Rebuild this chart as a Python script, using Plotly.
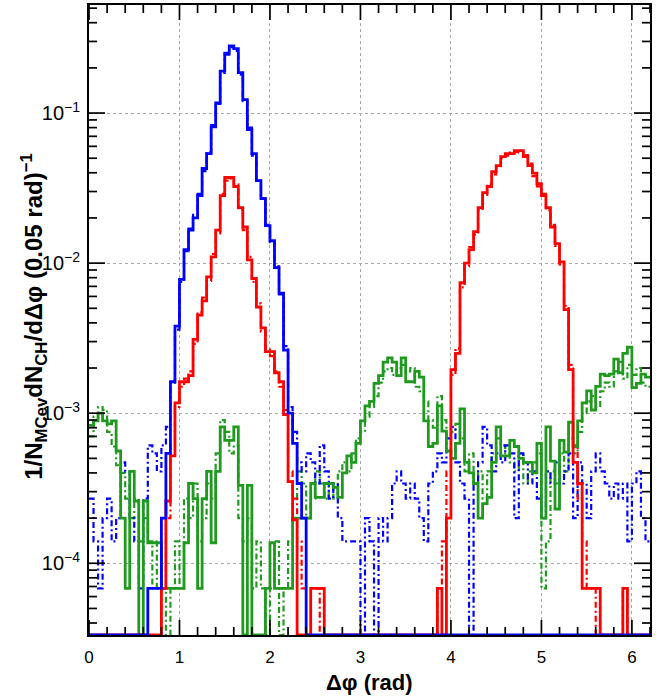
import plotly.graph_objects as go

# ---------------- data (per-bin values, 0.05 rad bins from 0 to 6.2) ----------------
BIN_WIDTH = 0.05
N_BINS = 124
bin_edges = [round(i * BIN_WIDTH, 2) for i in range(N_BINS + 1)]

blue_solid = [
    0, 0, 0, 0, 0, 0, 0, 0, 0, 0,
    0, 0, 0, 6.8e-5, 6.8e-5, 6.8e-5, 2.0e-4, 5.4e-4, 1.62e-3, 3.8e-3,
    7.8e-3, 1.23e-2, 1.66e-2, 2.0e-2, 2.82e-2, 4.27e-2, 5.37e-2, 8.1e-2, 0.117, 0.19,
    0.251, 0.28, 0.269, 0.186, 0.123, 0.0776, 0.0537, 0.0355, 0.0269, 0.0178,
    0.0141, 0.00933, 0.00631, 0.00263, 0.001, 6.3e-4, 3.4e-4, 2.0e-4, 0, 0,
    0, 0, 0, 0, 0, 0, 0, 0, 0, 0,
    0, 0, 0, 0, 0, 0, 0, 0, 0, 0,
    0, 0, 0, 0, 0, 0, 0, 0, 0, 0,
    0, 0, 0, 0, 0, 0, 0, 0, 0, 0,
    0, 0, 0, 0, 0, 0, 0, 0, 0, 0,
    0, 0, 0, 0, 0, 0, 0, 0, 0, 0,
    0, 0, 0, 0, 0, 0, 0, 0, 0, 0,
    0, 0, 0, 0,
]

blue_dashed = [
    2.7e-4, 1.4e-4, 6.8e-5, 2.0e-4, 2.7e-4, 1.4e-4, 2.0e-4, 4.7e-4, 4.1e-4, 2.0e-4,
    1.4e-4, 6.8e-5, 2.7e-4, 6.1e-4, 5.4e-4, 4.1e-4, 6.1e-4, 8.1e-4, 1.6e-3, 3.6e-3,
    7.5e-3, 1.2e-2, 1.7e-2, 2.1e-2, 2.9e-2, 4.1e-2, 5.5e-2, 8.3e-2, 0.115, 0.185,
    0.245, 0.275, 0.26, 0.18, 0.12, 0.08, 0.052, 0.036, 0.027, 0.018,
    0.0138, 0.0095, 0.0062, 0.0028, 1.1e-3, 7.5e-4, 4.7e-4, 4.1e-4, 5.4e-4, 4.7e-4,
    3.4e-4, 6.1e-4, 4.1e-4, 2.7e-4, 3.4e-4, 2.0e-4, 1.4e-4, 1.4e-4, 1.4e-4, 1.4e-4,
    0, 2.0e-4, 1.4e-4, 0, 2.0e-4, 1.4e-4, 2.0e-4, 3.4e-4, 4.1e-4, 3.4e-4,
    2.7e-4, 3.4e-4, 2.7e-4, 2.0e-4, 1.4e-4, 3.4e-4, 4.1e-4, 5.4e-4, 4.7e-4, 6.8e-4,
    8.1e-4, 4.7e-4, 3.4e-4, 2.7e-4, 0, 3.4e-4, 4.7e-4, 8.1e-4, 6.1e-4, 4.1e-4,
    5.4e-4, 4.7e-4, 6.1e-4, 5.4e-4, 2.0e-4, 5.4e-4, 4.7e-4, 3.4e-4, 4.1e-4, 2.7e-4,
    2.0e-4, 4.1e-4, 3.4e-4, 4.7e-4, 3.4e-4, 4.1e-4, 5.4e-4, 2.0e-4, 4.7e-4, 3.4e-4,
    2.0e-4, 4.1e-4, 5.4e-4, 4.1e-4, 3.4e-4, 2.7e-4, 3.4e-4, 2.7e-4, 3.4e-4, 1.4e-4,
    3.4e-4, 4.1e-4, 2.0e-4, 1.4e-4,
]

red_solid = [
    0, 0, 0, 0, 0, 0, 0, 0, 0, 0,
    0, 0, 0, 0, 0, 0, 6.8e-5, 2.6e-4, 5.2e-4, 1.17e-3,
    1.62e-3, 1.62e-3, 1.78e-3, 3.1e-3, 4.5e-3, 5.6e-3, 8.1e-3, 0.011, 0.0166, 0.0282,
    0.0372, 0.0372, 0.0324, 0.0234, 0.0174, 0.0105, 0.0079, 0.0051, 0.0037, 0.00257,
    0.00257, 0.00186, 0.00162, 9.8e-4, 3.5e-4, 1.95e-4, 0, 0, 0, 6.8e-5,
    6.8e-5, 6.8e-5, 0, 0, 0, 0, 0, 0, 0, 0,
    0, 0, 0, 0, 0, 0, 0, 0, 0, 0,
    0, 0, 0, 0, 0, 0, 0, 6.8e-5, 0, 2.0e-4,
    1.95e-3, 2.5e-3, 7.4e-3, 0.01, 0.0123, 0.0162, 0.0234, 0.0295, 0.0324, 0.0407,
    0.0447, 0.0513, 0.0537, 0.0537, 0.0562, 0.0562, 0.0513, 0.0447, 0.0398, 0.0339,
    0.0282, 0.0234, 0.0174, 0.0135, 0.0102, 0.0049, 0.00195, 4.7e-4, 3.4e-4, 6.8e-5,
    6.8e-5, 6.8e-5, 6.8e-5, 0, 0, 0, 0, 0, 6.8e-5, 0,
    0, 0, 0, 0,
]

red_dashed = [
    0, 0, 0, 0, 0, 0, 0, 0, 0, 0,
    0, 0, 0, 0, 0, 0, 6.8e-5, 2.0e-4, 6.1e-4, 1.1e-3,
    1.5e-3, 1.7e-3, 1.9e-3, 2.9e-3, 4.7e-3, 5.9e-3, 7.6e-3, 0.0115, 0.0158, 0.029,
    0.0355, 0.0365, 0.0335, 0.0228, 0.0166, 0.0110, 0.0075, 0.0054, 0.0035, 0.0027,
    0.0024, 0.0019, 0.0015, 1.05e-3, 4.1e-4, 2.7e-4, 1.4e-4, 6.8e-5, 6.8e-5, 6.8e-5,
    6.8e-5, 0, 0, 0, 0, 0, 0, 0, 0, 0,
    0, 0, 0, 0, 0, 0, 0, 0, 0, 0,
    0, 0, 0, 0, 0, 0, 0, 6.8e-5, 1.4e-4, 4.1e-4,
    1.8e-3, 2.7e-3, 6.9e-3, 0.0095, 0.0128, 0.0155, 0.0225, 0.0285, 0.0335, 0.039,
    0.0435, 0.050, 0.052, 0.0545, 0.055, 0.0545, 0.0525, 0.046, 0.038, 0.0325,
    0.0290, 0.0225, 0.0180, 0.0130, 0.0098, 0.0052, 0.0021, 6.1e-4, 2.7e-4, 1.4e-4,
    6.8e-5, 6.8e-5, 0, 0, 0, 0, 0, 0, 6.8e-5, 0,
    0, 0, 0, 0,
]

green_solid = [
    8.3e-4, 8.9e-4, 1.0e-3, 8.9e-4, 8.5e-4, 8.9e-4, 5.6e-4, 2.0e-4, 6.8e-5, 4.1e-4,
    2.6e-4, 0, 2.6e-4, 1.37e-4, 1.37e-4, 1.37e-4, 6.8e-5, 6.8e-5, 6.8e-5, 6.8e-5,
    6.8e-5, 1.37e-4, 3.4e-4, 2.7e-4, 6.8e-5, 2.7e-4, 4.1e-4, 1.37e-4, 4.1e-4, 8.1e-4,
    6.6e-4, 6.6e-4, 8.1e-4, 3.3e-4, 0, 3.3e-4, 0, 0, 0, 6.8e-5,
    1.37e-4, 6.8e-5, 6.8e-5, 6.8e-5, 6.8e-5, 2.0e-4, 2.0e-4, 2.0e-4, 2.0e-4, 3.4e-4,
    2.75e-4, 2.75e-4, 3.4e-4, 3.4e-4, 3.2e-4, 2.75e-4, 4.0e-4, 5.2e-4, 4.7e-4, 6.3e-4,
    8.9e-4, 1.12e-3, 1.2e-3, 1.58e-3, 1.78e-3, 2.19e-3, 2.34e-3, 2.19e-3, 1.78e-3, 2.34e-3,
    1.62e-3, 1.62e-3, 1.9e-3, 1.74e-3, 8.9e-4, 6.0e-4, 6.3e-4, 1.12e-3, 7.6e-4, 5.6e-4,
    5.0e-4, 6.3e-4, 1.07e-3, 4.7e-4, 4.0e-4, 3.4e-4, 2.0e-4, 2.5e-4, 2.75e-4, 4.7e-4,
    8.1e-4, 5.2e-4, 5.2e-4, 6.6e-4, 6.0e-4, 5.0e-4, 4.7e-4, 4.7e-4, 4.0e-4, 6.3e-4,
    2.0e-4, 8.1e-4, 4.8e-4, 2.3e-4, 6.6e-4, 5.5e-4, 8.7e-4, 6.0e-4, 8.9e-4, 1.17e-3,
    1.41e-3, 1.05e-3, 1.51e-3, 1.82e-3, 1.78e-3, 1.82e-3, 2.29e-3, 1.86e-3, 2.5e-3, 2.75e-3,
    1.48e-3, 1.58e-3, 1.82e-3, 1.74e-3,
]

green_dashed = [
    7.0e-4, 9.5e-4, 1.1e-3, 1.05e-3, 7.5e-4, 6.0e-4, 4.5e-4, 4.0e-4, 2.7e-4, 2.0e-4,
    2.7e-4, 1.4e-4, 2.0e-4, 1.4e-4, 6.8e-5, 1.4e-4, 6.8e-5, 0, 6.8e-5, 1.4e-4,
    6.8e-5, 2.7e-4, 2.0e-4, 3.4e-4, 1.4e-4, 2.0e-4, 3.4e-4, 2.7e-4, 5.4e-4, 9.0e-4,
    7.5e-4, 5.4e-4, 6.1e-4, 2.0e-4, 1.4e-4, 2.0e-4, 6.8e-5, 1.4e-4, 6.8e-5, 0,
    6.8e-5, 1.4e-4, 0, 6.8e-5, 1.4e-4, 2.7e-4, 4.1e-4, 3.4e-4, 2.0e-4, 2.7e-4,
    4.1e-4, 3.4e-4, 2.7e-4, 3.4e-4, 2.7e-4, 4.1e-4, 4.7e-4, 4.1e-4, 5.4e-4, 6.8e-4,
    7.5e-4, 9.5e-4, 1.1e-3, 1.3e-3, 1.6e-3, 1.9e-3, 2.0e-3, 1.8e-3, 2.0e-3, 2.1e-3,
    1.9e-3, 2.0e-3, 1.5e-3, 1.4e-3, 1.2e-3, 9.0e-4, 8.0e-4, 1.3e-3, 9.0e-4, 6.8e-4,
    7.5e-4, 8.5e-4, 6.8e-4, 4.1e-4, 5.4e-4, 3.4e-4, 4.1e-4, 2.7e-4, 4.1e-4, 5.4e-4,
    6.8e-4, 6.1e-4, 5.4e-4, 4.7e-4, 4.1e-4, 5.4e-4, 3.4e-4, 4.1e-4, 4.7e-4, 5.4e-4,
    6.8e-5, 1.4e-4, 4.1e-4, 3.4e-4, 5.4e-4, 4.1e-4, 6.8e-4, 5.4e-4, 7.5e-4, 1.0e-3,
    1.2e-3, 1.3e-3, 1.1e-3, 1.4e-3, 1.6e-3, 1.5e-3, 1.9e-3, 2.2e-3, 1.7e-3, 2.1e-3,
    1.8e-3, 2.0e-3, 1.6e-3, 1.5e-3,
]

for _s in (blue_solid, blue_dashed, red_solid, red_dashed, green_solid, green_dashed):
    assert len(_s) == N_BINS, len(_s)

# tick positions
x_major_ticks = [0, 1, 2, 3, 4, 5, 6]
x_minor_ticks = [round(0.2 * k, 1) for k in range(32) if k % 5 != 0]
y_major_ticks = [1e-4, 1e-3, 1e-2, 1e-1]
y_minor_ticks = [m * d for d in (1e-5, 1e-4, 1e-3, 1e-2, 1e-1) for m in range(2, 10)]

# ---------------- styling ----------------
Y_LOG_RANGE = [-4.478, -0.28]
X_RANGE = [0, 6.2]
FLOOR = 10 ** Y_LOG_RANGE[0]  # empty bins are drawn on the bottom frame, as ROOT does
Y_MAX = 10 ** Y_LOG_RANGE[1]
PLOT_W, PLOT_H = 561, 630      # plot-area size in px (from margins below)

BLUE = "#0000ff"
RED = "#ff0000"
GREEN = "#1f9a1f"
FONT = "Liberation Sans, Arial, Helvetica, sans-serif"


def step_trace(vals, color, dash, width):
    y = [v if v > FLOOR else FLOOR for v in vals]
    y = y + [y[-1]]
    return go.Scatter(
        x=bin_edges, y=y, mode="lines",
        line=dict(color=color, width=width, dash=dash, shape="hv"),
        showlegend=False, hoverinfo="skip",
    )


fig = go.Figure()
DASH = "6px,3px,2px,3px"
fig.add_trace(step_trace(green_dashed, GREEN, DASH, 2.2))
fig.add_trace(step_trace(blue_dashed, BLUE, DASH, 2.2))
fig.add_trace(step_trace(red_dashed, RED, DASH, 2.2))
fig.add_trace(step_trace(green_solid, GREEN, "solid", 2.8))
fig.add_trace(step_trace(red_solid, RED, "solid", 2.8))
fig.add_trace(step_trace(blue_solid, BLUE, "solid", 2.8))


# ---- inside tick marks on all four sides (ROOT style), as one line trace on the axes ----
def y_at_px(px_from_bottom):
    lo, hi = Y_LOG_RANGE
    return 10 ** (lo + (hi - lo) * px_from_bottom / PLOT_H)


def y_at_px_top(px_from_top):
    lo, hi = Y_LOG_RANGE
    return 10 ** (hi - (hi - lo) * px_from_top / PLOT_H)


def x_at_px(px_from_left):
    return X_RANGE[0] + (X_RANGE[1] - X_RANGE[0]) * px_from_left / PLOT_W


def x_at_px_right(px_from_right):
    return X_RANGE[1] - (X_RANGE[1] - X_RANGE[0]) * px_from_right / PLOT_W


tx, ty = [], []
for xv, ln in [(v, 15) for v in x_major_ticks] + [(v, 8) for v in x_minor_ticks]:
    if X_RANGE[0] <= xv <= X_RANGE[1]:
        tx += [xv, xv, None, xv, xv, None]
        ty += [FLOOR, y_at_px(ln), None, Y_MAX, y_at_px_top(ln), None]
for yv, ln in [(v, 16) for v in y_major_ticks] + [(v, 8) for v in y_minor_ticks]:
    if FLOOR <= yv <= Y_MAX:
        tx += [X_RANGE[0], x_at_px(ln), None, X_RANGE[1], x_at_px_right(ln), None]
        ty += [yv, yv, None, yv, yv, None]
fig.add_trace(go.Scatter(x=tx, y=ty, mode="lines", line=dict(color="#000000", width=1.7),
                         showlegend=False, hoverinfo="skip", cliponaxis=False))

fig.update_layout(
    template="none",
    xaxis=dict(
        range=X_RANGE, tick0=0, dtick=1, tickmode="linear", ticks="",
        showline=True, linecolor="#000000", linewidth=1.5, mirror=True,
        showgrid=True, gridcolor="#a8a8a8", griddash="dot", gridwidth=1,
        zeroline=False, tickfont=dict(family=FONT, size=17, color="black"),
        ticklabelstandoff=6,
    ),
    yaxis=dict(
        type="log", range=Y_LOG_RANGE, dtick=1, exponentformat="power", ticks="",
        showline=True, linecolor="#000000", linewidth=1.5, mirror=True,
        showgrid=True, gridcolor="#a8a8a8", griddash="dot", gridwidth=1,
        zeroline=False, tickfont=dict(family=FONT, size=16, color="black"),
        ticklabelstandoff=4,
    ),
)

fig.add_annotation(
    text="<b>1/N<sub>MCev</sub>dN<sub>CH</sub>/d\u0394\u03c6 (0.05 rad)<sup>\u22121</sup></b>",
    xref="paper", yref="paper", x=-0.098, y=0.505, textangle=-90,
    showarrow=False, font=dict(family=FONT, size=24, color="black"),
    xanchor="center", yanchor="middle",
)
fig.add_annotation(
    text="<b>\u0394\u03c6 (rad)</b>",
    xref="paper", yref="paper", x=0.5, y=-0.076,
    showarrow=False, font=dict(family=FONT, size=22, color="black"),
    xanchor="center", yanchor="middle",
)

fig.update_layout(
    width=658, height=699,
    margin=dict(l=89, r=8, t=5, b=64),
    paper_bgcolor="white", plot_bgcolor="white",
    font=dict(family=FONT),
)

fig.write_html("out.html")
